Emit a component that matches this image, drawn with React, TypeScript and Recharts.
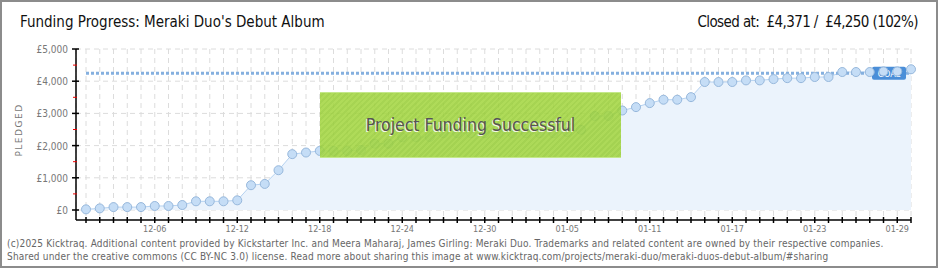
import React from 'react';
import { ComposedChart, Area, XAxis, YAxis, CartesianGrid, ReferenceLine } from 'recharts';

// one entry per day of the campaign
const dates = [
  '12-01', '12-02', '12-03', '12-04', '12-05', '12-06', '12-07', '12-08', '12-09', '12-10',
  '12-11', '12-12', '12-13', '12-14', '12-15', '12-16', '12-17', '12-18', '12-19', '12-20',
  '12-21', '12-22', '12-23', '12-24', '12-25', '12-26', '12-27', '12-28', '12-29', '12-30',
  '12-31', '01-01', '01-02', '01-03', '01-04', '01-05', '01-06', '01-07', '01-08', '01-09',
  '01-10', '01-11', '01-12', '01-13', '01-14', '01-15', '01-16', '01-17', '01-18', '01-19',
  '01-20', '01-21', '01-22', '01-23', '01-24', '01-25', '01-26', '01-27', '01-28', '01-29',
  '01-30',
];

const pledged = [
  20, 50, 90, 90, 90, 125, 125, 155, 270, 270,
  270, 300, 770, 810, 1235, 1735, 1785, 1835, 1835, 1835,
  1865, 2060, 2060, 2260, 2260, 2270, 2385, 2385, 2385, 2385,
  2385, 2385, 2385, 2385, 2385, 2420, 2490, 2920, 2920, 3090,
  3195, 3320, 3425, 3425, 3505, 3975, 3975, 3975, 4025, 4025,
  4065, 4095, 4095, 4130, 4130, 4285, 4285, 4285, 4305, 4305,
  4371,
];

const xLabels = ['12-06', '12-12', '12-18', '12-24', '12-30', '01-05', '01-11', '01-17', '01-23', '01-29'];
const yTicks = [0, 500, 1000, 1500, 2000, 2500, 3000, 3500, 4000, 4500, 5000];
const yGrid = [0, 1000, 2000, 3000, 4000, 5000];
const goal = 4250;
const raised = 4371;

const data = dates.map((d, i) => ({ date: d, pledged: pledged[i] }));

const FONT = '"DejaVu Sans Condensed", sans-serif';

const fmt = (v: number) => '£' + v.toLocaleString('en-GB');

function XTick({ x, y, payload }: any) {
  const show = xLabels.includes(payload.value);
  return (
    <g>
      <line x1={x} x2={x} y1={y - 3} y2={y + 3} stroke="#000" strokeWidth={1.5} />
      {show && (
        <text x={x} y={y + 12} textAnchor="middle" fontSize={9} fill="#777" fontFamily={FONT}>
          {payload.value}
        </text>
      )}
    </g>
  );
}

function YTick({ x, y, payload }: any) {
  const major = payload.value % 1000 === 0;
  if (!major) {
    return <line x1={x - 3} x2={x + 1} y1={y} y2={y} stroke="#e00" strokeWidth={1} />;
  }
  return (
    <g>
      <line x1={x - 4} x2={x + 3} y1={y} y2={y} stroke="#000" strokeWidth={1.5} />
      <text x={x - 8} y={y + 4} textAnchor="end" fontSize={10} fill="#777" fontFamily={FONT}>
        {fmt(payload.value)}
      </text>
    </g>
  );
}

function Dot({ cx, cy }: any) {
  return <circle cx={cx} cy={cy} r={4.5} fill="#c5ddf6" stroke="#97b8dc" strokeWidth={1} />;
}

function GoalLabel({ viewBox }: any) {
  const right = viewBox.x + viewBox.width - 5;
  const cy = viewBox.y;
  return (
    <g>
      <rect x={right - 34} y={cy - 6.5} width={34} height={13} rx={2} fill="#4a8ed8" />
      <text x={right - 17} y={cy + 3.5} textAnchor="middle" fontSize={9} fill="#fff" fontFamily={FONT}>
        GOAL
      </text>
    </g>
  );
}

function PledgedLabel() {
  return (
    <text
      x={22}
      y={130}
      transform="rotate(-90 22 130)"
      textAnchor="middle"
      fontSize={9}
      fill="#777"
      letterSpacing={1.5}
      fontFamily="DejaVu Sans, sans-serif"
    >
      PLEDGED
    </text>
  );
}

export default function App() {
  return (
    <div
      style={{
        position: 'absolute',
        left: 0,
        top: 0,
        width: 938,
        height: 268,
        boxSizing: 'border-box',
        border: '2px solid #8c8c8c',
        background: '#fff',
        overflow: 'hidden',
      }}
    >
      <div style={{ position: 'absolute', left: 18, top: 11, fontFamily: FONT, fontSize: 15, color: '#111' }}>
        Funding Progress: Meraki Duo's Debut Album
      </div>
      <div
        style={{
          position: 'absolute',
          right: 18,
          top: 11,
          fontFamily: FONT,
          fontSize: 15,
          letterSpacing: -0.6,
          color: '#111',
          whiteSpace: 'pre',
        }}
      >
        {`Closed at:  ${fmt(raised)} /  ${fmt(goal)} (${Math.floor((raised / goal) * 100)}%)`}
      </div>

      <div style={{ position: 'absolute', left: -2, top: -2 }}>
        <ComposedChart width={940} height={270} data={data} margin={{ top: 49, right: 29, bottom: 20, left: 0 }}>
          <CartesianGrid
            stroke="#dcdcdc"
            strokeDasharray="5 4"
            horizontalValues={yGrid}
          />
          <XAxis
            dataKey="date"
            type="category"
            scale="point"
            interval={0}
            height={30}
            padding={{ left: 10, right: 0 }}
            axisLine={{ stroke: '#000', strokeWidth: 1.5 }}
            tickLine={false}
            tickSize={0}
            tickMargin={0}
            tick={<XTick />}
          />
          <YAxis
            width={76}
            domain={[0, 5000]}
            ticks={yTicks}
            interval={0}
            padding={{ top: 0, bottom: 10 }}
            axisLine={{ stroke: '#000', strokeWidth: 1.5 }}
            tickLine={false}
            tickSize={0}
            tickMargin={0}
            tick={<YTick />}
            label={<PledgedLabel />}
          />
          <ReferenceLine
            segment={[{ x: dates[0], y: goal }, { x: dates[dates.length - 1], y: goal }]}
            stroke="#85b0df"
            strokeWidth={3}
            strokeDasharray="3 2"
            label={<GoalLabel />}
          />
          <Area
            type="linear"
            dataKey="pledged"
            stroke="#b5d2f1"
            strokeWidth={1}
            fill="#ebf3fc"
            fillOpacity={1}
            dot={<Dot />}
            activeDot={false}
            isAnimationActive={false}
          />
        </ComposedChart>
      </div>

      <div
        style={{
          position: 'absolute',
          left: 318,
          top: 90,
          width: 301,
          height: 66,
          boxSizing: 'border-box',
          borderTop: '1px solid #c4e88a',
          borderBottom: '1px solid #c4e88a',
          background:
            'repeating-linear-gradient(135deg, rgba(164,214,66,0.88) 0px, rgba(164,214,66,0.88) 2px, rgba(154,206,58,0.88) 2px, rgba(154,206,58,0.88) 4px)',
          display: 'flex',
          alignItems: 'center',
          justifyContent: 'center',
          fontFamily: FONT,
          fontSize: 17.5,
          color: '#555',
          textShadow: '-1px 1px 0 rgba(255,255,255,0.85)',
        }}
      >
        Project Funding Successful
      </div>

      <div
        style={{
          position: 'absolute',
          left: 5,
          top: 235,
          fontFamily: FONT,
          fontSize: 10,
          letterSpacing: 0.18,
          lineHeight: '13px',
          color: '#666',
          whiteSpace: 'nowrap',
        }}
      >
        <div>
          (c)2025 Kicktraq. Additional content provided by Kickstarter Inc. and Meera Maharaj, James Girling: Meraki Duo. Trademarks and related content are owned by their respective companies.
        </div>
        <div>
          Shared under the creative commons (CC BY-NC 3.0) license. Read more about sharing this image at www.kicktraq.com/projects/meraki-duo/meraki-duos-debut-album/#sharing
        </div>
      </div>
    </div>
  );
}
